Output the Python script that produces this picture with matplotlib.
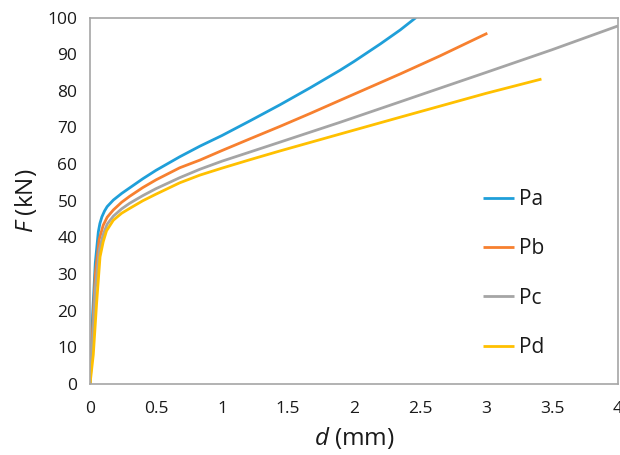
import matplotlib
matplotlib.use("Agg")
import matplotlib.pyplot as plt

plt.rcParams['font.family'] = ['Open Sans', 'DejaVu Sans']
plt.rcParams['mathtext.fontset'] = 'custom'
plt.rcParams['mathtext.it'] = 'Open Sans:italic'
plt.rcParams['mathtext.rm'] = 'Open Sans'

# Data
pa_d = [0, 0.02, 0.04, 0.063, 0.075, 0.09, 0.11, 0.13, 0.177, 0.24, 0.3, 0.4, 0.5, 0.68, 0.833, 1.0, 1.212, 1.44, 1.667, 1.894, 2.0, 2.2, 2.35, 2.47]
pa_f = [0, 19, 33, 41.5, 43.8, 45.6, 47.2, 48.4, 50.2, 52, 53.5, 56, 58.3, 62, 64.9, 67.8, 71.8, 76.2, 80.8, 85.6, 88.0, 92.8, 96.6, 100]

pb_d = [0, 0.02, 0.04, 0.07, 0.1, 0.13, 0.177, 0.24, 0.3, 0.4, 0.5, 0.68, 0.833, 1.0, 1.212, 1.44, 1.667, 1.894, 2.35, 2.65, 3.01]
pb_f = [0, 15, 30, 39.5, 43.3, 45.5, 47.5, 49.6, 51.2, 53.6, 55.7, 59, 61.1, 63.7, 66.9, 70.3, 73.8, 77.4, 84.6, 89.5, 95.7]

pc_d = [0, 0.02, 0.04, 0.07, 0.1, 0.13, 0.177, 0.24, 0.3, 0.4, 0.5, 0.68, 0.833, 1.0, 1.212, 1.44, 1.667, 1.894, 2.35, 2.65, 3.0, 3.5, 4.0]
pc_f = [0, 12, 26, 36.5, 40.8, 43.6, 45.8, 47.8, 49.3, 51.4, 53.3, 56.3, 58.6, 60.8, 63.3, 66.0, 68.7, 71.4, 77.0, 80.7, 85.0, 91.2, 97.7]

pd_d = [0, 0.025, 0.05, 0.076, 0.1, 0.125, 0.177, 0.24, 0.3, 0.4, 0.5, 0.68, 0.833, 1.0, 1.212, 1.44, 1.667, 1.894, 2.35, 2.65, 3.0, 3.42]
pd_f = [0, 8, 22, 34.7, 38.8, 41.8, 44.7, 46.6, 47.9, 50, 51.8, 54.9, 57.0, 58.9, 61.2, 63.6, 65.9, 68.2, 72.8, 75.8, 79.3, 83.2]

labels = ['Pa', 'Pb', 'Pc', 'Pd']
colors = ['#1F9FD9', '#F7802F', '#A5A5A5', '#FFC000']

x_ticks = [0, 0.5, 1, 1.5, 2, 2.5, 3, 3.5, 4]
x_tick_labels = ['0', '0.5', '1', '1.5', '2', '2.5', '3', '3.5', '4']
y_ticks = list(range(0, 101, 10))

fig = plt.figure(figsize=(6.2, 4.55), dpi=100)
ax = fig.add_axes([90/620, 1-384/455, (618-90)/620, (384-17.5)/455])

series = [(pa_d, pa_f), (pb_d, pb_f), (pc_d, pc_f), (pd_d, pd_f)]
for (d, f), lab, c in zip(series, labels, colors):
    ax.plot(d, f, color=c, lw=2, label=lab, solid_capstyle='butt', solid_joinstyle='round')

ax.set_xlim(0, 4)
ax.set_ylim(0, 100)
ax.set_xticks(x_ticks)
ax.set_xticklabels(x_tick_labels)
ax.set_yticks(y_ticks)
ax.tick_params(length=0, labelsize=12.5, labelcolor='#1A1A1A', pad=9)
ax.tick_params(axis='x', pad=12)
for s in ax.spines.values():
    s.set_color('#A6A6A6')
    s.set_linewidth(1.2)

ax.set_xlabel(r'$\mathit{d}$ (mm)', fontsize=17.5, color='#1A1A1A', labelpad=6)
ax.set_ylabel(r'$\mathit{F}$ (kN)', fontsize=17.5, color='#1A1A1A', labelpad=6)

leg = ax.legend(loc='upper left', bbox_to_anchor=(483/620, 1-189/455),
                bbox_transform=fig.transFigure, frameon=False, fontsize=15,
                handlelength=1.5, handletextpad=0.25, labelspacing=1.36,
                borderpad=0, borderaxespad=0)
for t in leg.get_texts():
    t.set_color('#1A1A1A')

fig.savefig('out.png', dpi=100)
